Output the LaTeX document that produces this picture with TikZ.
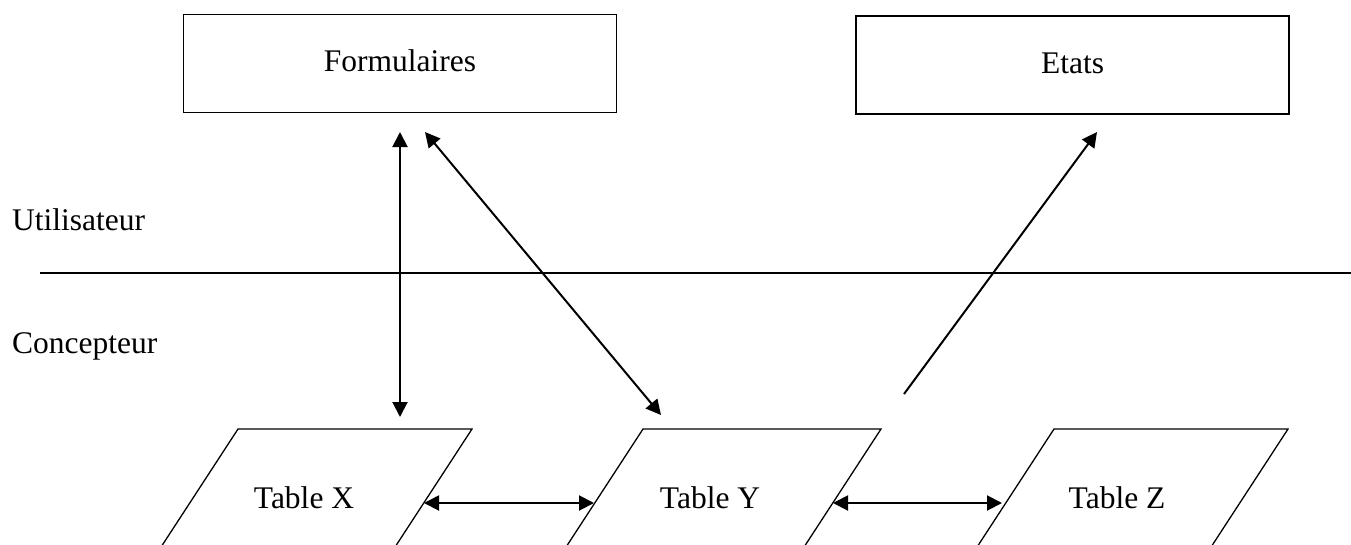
\documentclass[tikz,border=0pt]{standalone}
\usepackage{fontspec}
\setmainfont{Liberation Serif}
\usetikzlibrary{arrows.meta}
\begin{document}
\begin{tikzpicture}[x=1pt,y=-1pt,
  lbl/.style={font=\fontsize{31.5}{38}\selectfont, inner sep=0pt},
  box/.style={draw, line width=1.3pt, minimum width=433pt, minimum height=98pt,
              inner sep=0pt, text depth=0pt, font=\fontsize{31.5}{38}\selectfont},
  tbl/.style={draw, line width=1.3pt, line join=miter},
  tip/.style={Triangle[length=15pt,width=15pt]},
  both/.style={line width=2pt, {Triangle[length=15pt,width=15pt]}-{Triangle[length=15pt,width=15pt]}},
  single/.style={line width=2pt, -{Triangle[length=15pt,width=15pt]}},
  sep/.style={line width=2pt}]
\clip (0,0) rectangle (1351,544);
% boxes
\node[box, text height=15pt] (form) at (400,63.5) {Formulaires};
\node[box, text height=16pt] (etats) at (1072.5,65) {Etats};
% side labels
\node[lbl, anchor=base west] (util) at (12,230) {Utilisateur};
\node[lbl, anchor=base west] (conc) at (12,353) {Concepteur};
% separator
\coordinate (sepL) at (40,273);
\coordinate (sepR) at (1351,273);
\draw[sep] (sepL) -- (sepR);
% tables (parallelograms, bottom cut by the frame)
\draw[tbl] (238,429) -- (472,429) -- (375.5,577) -- (141.5,577) -- cycle;
\draw[tbl] (643,429) -- (881,429) -- (784.5,577) -- (546.5,577) -- cycle;
\draw[tbl] (1054,429) -- (1288,429) -- (1191.5,577) -- (957.5,577) -- cycle;
\node[lbl, anchor=base] (tx) at (304,508) {Table X};
\node[lbl, anchor=base] (ty) at (710,508) {Table Y};
\node[lbl, anchor=base] (tz) at (1117,508) {Table Z};
% connector end points
\coordinate (fA) at (400,132);
\coordinate (xA) at (400,417);
\coordinate (fB) at (425,132);
\coordinate (yB) at (661,415);
\coordinate (zC) at (904,394);
\coordinate (eC) at (1097,132);
\coordinate (xR) at (424,503);
\coordinate (yL) at (594,503);
\coordinate (yR) at (833,503);
\coordinate (zL) at (1002,503);
% connectors
\draw[both] (fA) -- (xA);
\draw[both] (fB) -- (yB);
\draw[single] (zC) -- (eC);
\draw[both] (xR) -- (yL);
\draw[both] (yR) -- (zL);
\end{tikzpicture}
\end{document}
